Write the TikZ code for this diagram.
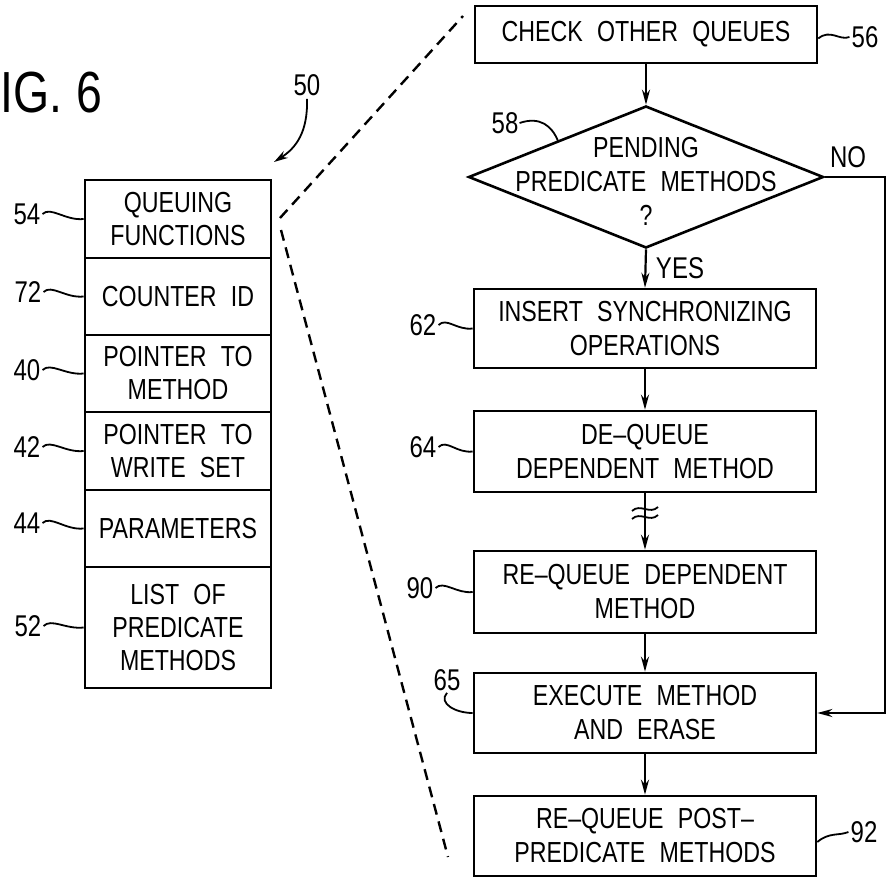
\documentclass[tikz,border=0pt]{standalone}
\usepackage{fontspec}
\setmainfont{Liberation Sans}[FakeStretch=0.8,WordSpace=2.2]
\usetikzlibrary{arrows.meta,shapes.geometric}
\begin{document}
\begin{tikzpicture}[x=1pt,y=-1pt,
  lbl/.style={font=\fontsize{30}{34}\selectfont, inner sep=0pt},
  rowbox/.style={draw, line width=2.6pt, minimum width=186pt, inner sep=0pt, align=center, font=\fontsize{29}{33}\selectfont},
  fbox/.style={draw, line width=2.6pt, minimum width=342pt, inner sep=0pt, align=center, font=\fontsize{29}{34}\selectfont},
  conn/.style={line width=2.2pt, -{Stealth[length=15pt,width=8pt]}},
  lead/.style={line width=1.8pt},
  dashline/.style={line width=2.4pt, dash pattern=on 11pt off 7pt}
]
\useasboundingbox[fill=white] (0,0) rectangle (887,878);

% title
\node[anchor=west, font=\fontsize{58}{60}\selectfont, inner sep=0pt] (fig) at (0,93) {IG.\hspace{14pt}6};

% left stack
\node[rowbox, minimum height=78pt]  (r1) at (178,219)   {QUEUING\\FUNCTIONS};
\node[rowbox, minimum height=77pt]  (r2) at (178,296.5) {COUNTER ID};
\node[rowbox, minimum height=77pt]  (r3) at (178,373.5) {POINTER TO\\METHOD};
\node[rowbox, minimum height=78pt]  (r4) at (178,451)   {POINTER TO\\WRITE SET};
\node[rowbox, minimum height=77pt]  (r5) at (178,528.5) {PARAMETERS};
\node[rowbox, minimum height=121pt] (r6) at (178,627.5) {LIST OF\\PREDICATE\\METHODS};

\node[lbl] (l54) at (27,214) {54};
\node[lbl] (l72) at (28,292) {72};
\node[lbl] (l40) at (27,370) {40};
\node[lbl] (l42) at (27,447) {42};
\node[lbl] (l44) at (27,523) {44};
\node[lbl] (l52) at (28,626) {52};
\foreach \a/\b in {l54/r1,l72/r2,l40/r3,l42/r4,l44/r5,l52/r6}
  \draw[lead] ([xshift=2pt]\a.east) .. controls +(8,-8) and +(-18,2) .. (\b.west);

% 50 arrow
\node[lbl] (l50) at (307,85) {50};
\coordinate (a50) at (274,162);
\draw[lead, -{Stealth[length=14pt,width=8pt]}] ([yshift=-3pt]l50.south) .. controls (308,132) and (296,148) .. (a50);

% dashed zoom lines
\coordinate (d1) at (280,218);
\coordinate (d2) at (463,16);
\coordinate (d3) at (281,230);
\coordinate (d4) at (448,857);
\draw[dashline] (d1) -- (d2);
\draw[dashline] (d3) -- (d4);

% right flowchart
\node[fbox, minimum height=57pt] (cq) at (646,34.5) {CHECK OTHER QUEUES};
\node[diamond, draw, line width=2.6pt, minimum width=355pt, minimum height=142pt, inner sep=0pt] (dia) at (646,177) {};
\node[lbl, align=center, font=\fontsize{29}{34}\selectfont] (diat) at (646,181) {PENDING\\PREDICATE METHODS\\?};
\node[fbox, minimum height=79pt] (ins) at (645,328.5) {INSERT SYNCHRONIZING\\OPERATIONS};
\node[fbox, minimum height=81pt] (deq) at (645,451.5) {DE--QUEUE\\DEPENDENT METHOD};
\node[fbox, minimum height=82pt] (rqd) at (645,592) {RE--QUEUE DEPENDENT\\METHOD};
\node[fbox, minimum height=80pt] (exe) at (645,713) {EXECUTE METHOD\\AND ERASE};
\node[fbox, minimum height=80pt] (post) at (645,836) {RE--QUEUE POST--\\PREDICATE METHODS};

\draw[conn] (cq.south) -- (dia.north);
\draw[conn] (dia.south) -- (ins.north);
\draw[conn] (ins.south) -- (deq.north);
\draw[conn] (deq.south) -- (rqd.north);
\draw[conn] (rqd.south) -- (exe.north);
\draw[conn] (exe.south) -- (post.north);

% break mark
\draw[lead] (632,511) .. controls (640,503) and (650,515) .. (658,507);
\draw[lead] (632,519) .. controls (640,511) and (650,523) .. (658,515);

% NO branch
\coordinate (nc) at (885,177);
\draw[conn] (dia.east) -- (nc) |- (exe.east);
\node[lbl] (no) at (848,157) {NO};
\node[lbl] (yes) at (680,268) {YES};

% reference labels
\node[lbl] (l56) at (865,37) {56};
\draw[lead] ([yshift=-4pt]cq.east) .. controls +(12,-10) and +(-10,4) .. ([xshift=-2pt]l56.west);
\node[lbl] (l58) at (505,123) {58};
\coordinate (c58) at (558,141);
\draw[lead] ([xshift=1pt]l58.east) .. controls (540,116) and (552,126) .. (c58);
\node[lbl] (l62) at (423,325) {62};
\draw[lead] ([xshift=2pt]l62.east) .. controls +(8,-8) and +(-16,2) .. (ins.west);
\node[lbl] (l64) at (423,447) {64};
\draw[lead] ([xshift=2pt]l64.east) .. controls +(8,-8) and +(-16,2) .. (deq.west);
\node[lbl] (l90) at (420,588) {90};
\draw[lead] ([xshift=2pt]l90.east) .. controls +(8,-8) and +(-16,2) .. (rqd.west);
\node[lbl] (l65) at (447,680) {65};
\draw[lead] ([yshift=-2pt]l65.south) .. controls (438,703) and (455,713) .. (exe.west);
\node[lbl] (l92) at (864,832) {92};
\draw[lead] ([yshift=-6pt]post.east) .. controls +(12,-10) and +(-10,4) .. ([xshift=-2pt]l92.west);
\end{tikzpicture}
\end{document}
